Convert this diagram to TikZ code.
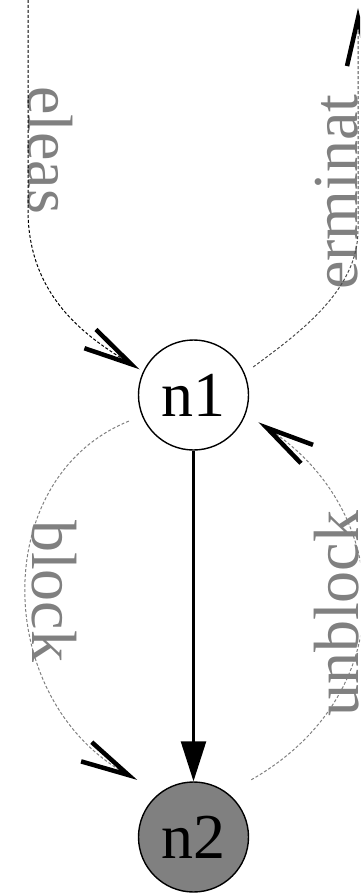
\documentclass[tikz,border=0pt]{standalone}
\usepackage{fontspec}
\setmainfont{Liberation Serif}
\usetikzlibrary{arrows.meta}
\begin{document}
\begin{tikzpicture}[x=1pt,y=-1pt,
  statenode/.style={circle,draw=black,line width=1.4pt,minimum size=110pt,inner sep=0pt,font=\fontsize{64}{64}\selectfont},
  lbl/.style={inner sep=0pt,anchor=base west,text=black!50,font=\fontsize{64}{64}\selectfont},
  dedge/.style={dash pattern=on 3pt off 2pt,line width=1pt},
  barb/.style={-{Straight Barb[length=48pt,width=22pt,line width=4.5pt,color=black]}},
  solidedge/.style={line width=2.5pt,-{Triangle[length=40pt,width=25pt]}}
]
\useasboundingbox (0,0) rectangle (360,893);
\clip (0,0) rectangle (360,893);
% labels
\node[lbl,rotate=-90] (lrel) at (28,86) {eleas};
\node[lbl,rotate=90] (lterm) at (357,290) {erminat};
\node[lbl,rotate=-90] (lblock) at (32,520) {block};
\node[lbl,rotate=90] (lunblock) at (358,717) {unblock};
% nodes
\node[statenode] (n1) at (193.5,395) {n1};
\node[statenode,fill=black!50] (n2) at (193.5,837) {n2};
\coordinate (rtop) at (28,-5);
\coordinate (ttip) at (358,8);
% edges
\draw[solidedge] (n1) -- (n2);
\draw[dedge,draw=black!50,barb,shorten <=14pt,shorten >=26pt] (n1.202) .. controls (-12,478) and (-7,700) .. (n2.127);
\draw[dedge,draw=black!50,barb,shorten <=27pt,shorten >=15pt] (n2.52) .. controls (402,694) and (395.5,512) .. (n1.340);
\draw[dedge,draw=black,barb,shorten >=4pt] (rtop) -- (28,210) .. controls (28,300) and (92,340) .. (n1.155);
\draw[dedge,draw=black!70,barb,shorten <=10.5pt] (n1.23) .. controls (300.5,332) and (358,290) .. (358,230) -- (ttip);
\end{tikzpicture}
\end{document}
